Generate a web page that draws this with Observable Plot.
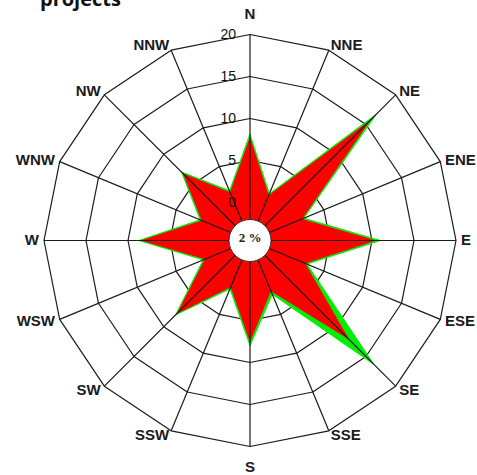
<!DOCTYPE html>
<html>
<head>
<meta charset="utf-8">
<script src="https://cdn.jsdelivr.net/npm/d3@7"></script>
<script src="https://cdn.jsdelivr.net/npm/@observablehq/plot@0.6"></script>
<style>
  html, body { margin: 0; padding: 0; background: #fff; }
  #wrap { position: relative; width: 477px; height: 475px; overflow: hidden; }
  #title { position: absolute; left: 40px; top: -11px; font: bold 20px/20px "Open Sans", sans-serif; color: #111; white-space: nowrap; }
  #chart { position: absolute; left: 0; top: 0; }
</style>
</head>
<body>
<div id="wrap">
  <div id="chart"></div>
  <div id="title">projects</div>
</div>
<script>
// Data
const directions = ["N","NNE","NE","ENE","E","ESE","SE","SSE","S","SSW","SW","WSW","W","WNW","NW","NNW"];
const redValues   = [7.8, 1.3, 15.8, 2.2, 10.5, 2.6, 12.2, 2.0, 7.6, 1.5, 7.8, 1.3, 8.5, 1.7, 6.8, 1.7];
const greenValues = [8.1, 1.5, 16.7, 2.4, 11.0, 2.8, 16.3, 2.4, 8.0, 1.7, 8.0, 1.5, 8.7, 1.9, 7.0, 1.9];
const ringLevels = [5, 10, 15, 20];
const tickLabels = ["0", "5", "10", "15", "20"];
const centerLabel = "2 %";

// Geometry (in value units)
const PX = 8.4;            // pixels per unit
const R0 = 38 / PX;        // radius offset of the value 0
const CX = 249.5, CY = 240;
const W = 477, H = 475;

function polar(v, i) {
  const a = i * Math.PI / 8;
  const r = R0 + v;
  return {x: r * Math.sin(a), y: r * Math.cos(a)};
}

const redPoly = redValues.map((v, i) => polar(v, i));
const greenPoly = greenValues.map((v, i) => polar(v, i));
const rings = ringLevels.flatMap(l => directions.map((d, i) => ({...polar(l, i), level: l})));
const spokes = directions.map((d, i) => ({...polar(20, i), d}));
const labels = directions.map((d, i) => ({...polar(20.6, i), d, i}));
const ticks = tickLabels.map(t => ({x: -14 / PX, y: R0 + (+t), t}));

const font = "'Liberation Sans', Arial, sans-serif";
const lab = {fontFamily: font, fontSize: 15, fontWeight: "bold", fill: "#1a1a1a"};

const chart = Plot.plot({
  width: W,
  height: H,
  margin: 0,
  style: {background: "white", overflow: "visible"},
  x: {domain: [-CX / PX, (W - CX) / PX], axis: null},
  y: {domain: [-(H - CY) / PX, CY / PX], axis: null},
  marks: [
    Plot.line(rings, {x: "x", y: "y", z: "level", curve: "linear-closed", stroke: "#1a1a1a", strokeWidth: 1.2}),
    Plot.line(greenPoly, {x: "x", y: "y", curve: "linear-closed", fill: "#00ee00", stroke: "#00ee00", strokeWidth: 1}),
    Plot.line(redPoly, {x: "x", y: "y", curve: "linear-closed", fill: "#ff0000", stroke: "none"}),
    Plot.link(spokes, {x1: 0, y1: 0, x2: "x", y2: "y", stroke: "#1a1a1a", strokeWidth: 1.2}),
    Plot.dot([{x: 0, y: 0}], {x: "x", y: "y", r: 21, fill: "white", stroke: "#333", strokeWidth: 1}),
    Plot.text([centerLabel], {x: 0, y: 0, text: d => d, dy: -3, fontFamily: "'Liberation Serif', 'Times New Roman', serif", fontWeight: "bold", fontSize: 13, fill: "#222"}),
    Plot.text(ticks, {x: "x", y: "y", text: "t", textAnchor: "end", fontFamily: font, fontSize: 14, fill: "#111"}),
    Plot.text(labels.filter(l => l.i > 0 && l.i < 8), {x: "x", y: "y", text: "d", textAnchor: "start", ...lab}),
    Plot.text(labels.filter(l => l.i > 8), {x: "x", y: "y", text: "d", textAnchor: "end", ...lab}),
    Plot.text(labels.filter(l => l.i === 0), {x: "x", y: "y", text: "d", dy: -15, ...lab}),
    Plot.text(labels.filter(l => l.i === 8), {x: "x", y: "y", text: "d", dy: 16, ...lab})
  ]
});
document.getElementById("chart").appendChild(chart);
</script>
</body>
</html>
